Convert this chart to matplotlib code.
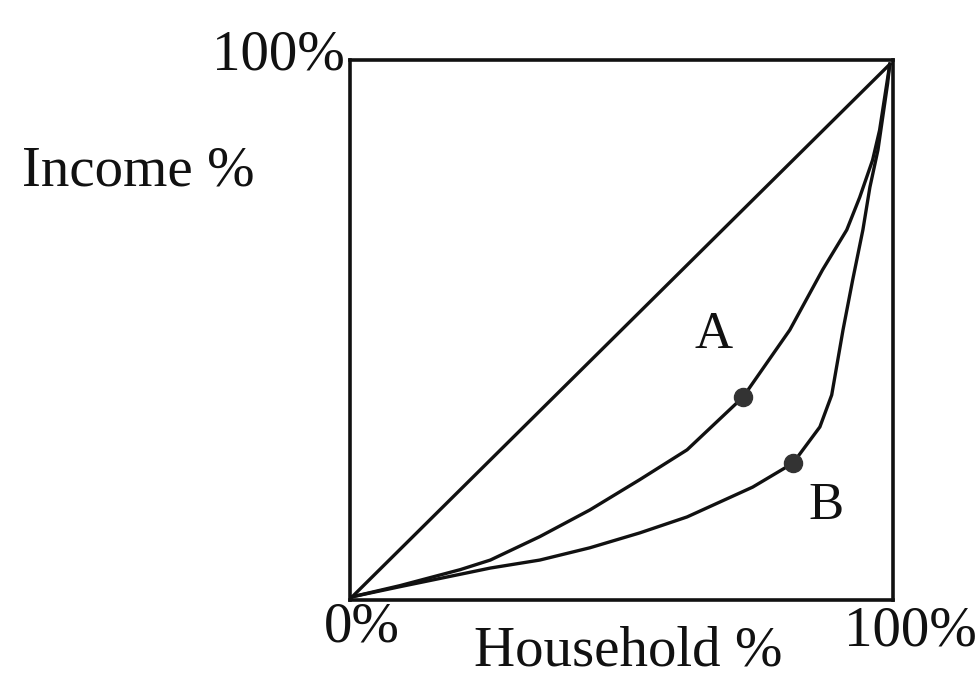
import matplotlib
matplotlib.use('Agg')
import matplotlib.pyplot as plt

# Lorenz curves (share of households vs share of income)
equal_x = [0.0, 1.0]
equal_y = [0.0, 1.0]

curve_a_x = [0.0, 0.089, 0.201, 0.257, 0.349, 0.442, 0.535, 0.623, 0.727, 0.814, 0.875, 0.920, 0.944, 0.968, 0.981, 1.0]
curve_a_y = [0.0, 0.021, 0.051, 0.069, 0.113, 0.163, 0.220, 0.276, 0.375, 0.501, 0.614, 0.689, 0.750, 0.820, 0.876, 1.0]

curve_b_x = [0.0, 0.089, 0.214, 0.257, 0.349, 0.442, 0.535, 0.623, 0.745, 0.820, 0.870, 0.892, 0.913, 0.931, 0.950, 0.963, 0.978, 0.996, 1.0]
curve_b_y = [0.0, 0.019, 0.045, 0.054, 0.069, 0.092, 0.120, 0.150, 0.206, 0.251, 0.319, 0.379, 0.501, 0.595, 0.689, 0.769, 0.839, 0.964, 1.0]

dot_x = [0.727, 0.820]
dot_y = [0.375, 0.251]
dot_labels = ['A', 'B']

plt.rcParams['font.family'] = ['Liberation Serif', 'DejaVu Serif']

fig = plt.figure(figsize=(9.77, 6.83), dpi=100)
ax = fig.add_axes([350 / 977, 83 / 683, 543 / 977, 540 / 683])

ax.plot(equal_x, equal_y, color='#111111', lw=2.4, solid_joinstyle='round')
ax.plot(curve_a_x, curve_a_y, color='#111111', lw=2.4, solid_joinstyle='round')
ax.plot(curve_b_x, curve_b_y, color='#111111', lw=2.4, solid_joinstyle='round')
ax.plot(dot_x, dot_y, 'o', color='#333333', ms=13, zorder=5)

ax.set_xlim(-0.004, 1.006)
ax.set_ylim(-0.006, 1.008)
ax.set_xticks([])
ax.set_yticks([])
for s in ax.spines.values():
    s.set_linewidth(2.6)
    s.set_color('#111111')

ax.text(0.673, 0.492, dot_labels[0], fontsize=38, ha='center', va='center', color='#111111')
ax.text(0.881, 0.170, dot_labels[1], fontsize=38, ha='center', va='center', color='#111111')

fig.text(345 / 977, 1 - 55 / 683, '100%', fontsize=41, ha='right', va='center', color='#111111')
fig.text(22 / 977, 1 - 172 / 683, 'Income %', fontsize=41, ha='left', va='center', color='#111111')
fig.text(362 / 977, 1 - 628 / 683, '0%', fontsize=41, ha='center', va='center', color='#111111')
fig.text(628 / 977, 1 - 652 / 683, 'Household %', fontsize=41, ha='center', va='center', color='#111111')
fig.text(977 / 977, 1 - 632 / 683, '100%', fontsize=41, ha='right', va='center', color='#111111')

fig.savefig('out.png', dpi=100, facecolor='white')
